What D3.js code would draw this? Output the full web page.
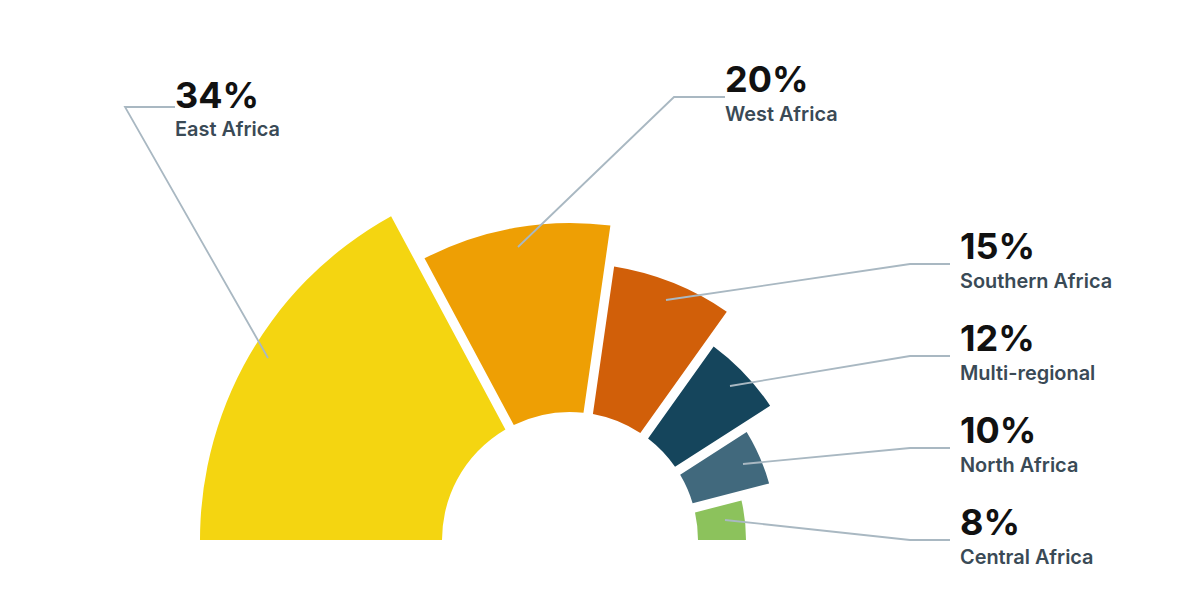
<!DOCTYPE html>
<html><head><meta charset="utf-8">
<script src="https://cdn.jsdelivr.net/npm/d3@7"></script>
<style>html,body{margin:0;background:#fff}svg{display:block}</style></head>
<body><svg id="c" width="1200" height="610"></svg>
<script>
const categories=["East Africa","West Africa","Southern Africa","Multi-regional","North Africa","Central Africa"];
const shares=[34,20,15,12,10,8];
const outerRadii=[370,317,277,241,207,176];
const colors=["#f4d511","#ee9f04","#d15f09","#15455c","#41697d","#8cc25c"];
const leaderStart=[[268,358],[518,247],[666,300],[730,386],[743,464],[725,520]];
const leaderElbow=[[125,107],[674,97],[910,264],[910,356],[910,448],[910,540]];
const leaderEnd=[[175,107],[725,97],[950,264],[950,356],[950,448],[950,540]];
const labelX=[175,725,960,960,960,960];
const valueBaseline=[107.5,92,259,351,443,535];

const svg=d3.select("#c");
const cx=570,cy=540,innerR=128;
const r=d3.scaleLinear().domain([0,100]).range([0,100]);
const pie=d3.pie().sort(null).startAngle(-Math.PI/2).endAngle(Math.PI/2);
const slices=pie(shares);
slices[0].startAngle-=0.1;
slices[slices.length-1].endAngle+=0.1;
svg.append("clipPath").attr("id","half").append("rect").attr("x",0).attr("y",0).attr("width",1200).attr("height",cy);
const arc=d3.arc().innerRadius(innerR).padAngle(0.0272).padRadius(350);
const g=svg.append("g").attr("clip-path","url(#half)").append("g").attr("transform",`translate(${cx},${cy})`);
g.selectAll("path").data(slices).join("path")
 .attr("d",(d,i)=>arc.outerRadius(r(outerRadii[i]))(d))
 .attr("fill",(d,i)=>colors[i]);
const line=d3.line();
svg.append("g").selectAll("path").data(categories).join("path")
 .attr("d",(d,i)=>line([leaderStart[i],leaderElbow[i],leaderEnd[i]]))
 .attr("fill","none").attr("stroke","#a9b8c2").attr("stroke-width",1.8);
const t=svg.append("g").style("font-family","Inter, 'Noto Sans', sans-serif");
t.selectAll("text.v").data(shares).join("text").attr("class","v")
 .attr("x",(d,i)=>labelX[i]).attr("y",(d,i)=>valueBaseline[i])
 .attr("font-size",36).attr("font-weight",700).attr("fill","#111")
 .text(d=>d+"%");
t.selectAll("text.l").data(categories).join("text").attr("class","l")
 .attr("x",(d,i)=>labelX[i]).attr("y",(d,i)=>valueBaseline[i]+28.5)
 .attr("font-size",19.9).attr("font-weight",600).attr("fill","#3a4a56")
 .text(d=>d);
</script></body></html>
